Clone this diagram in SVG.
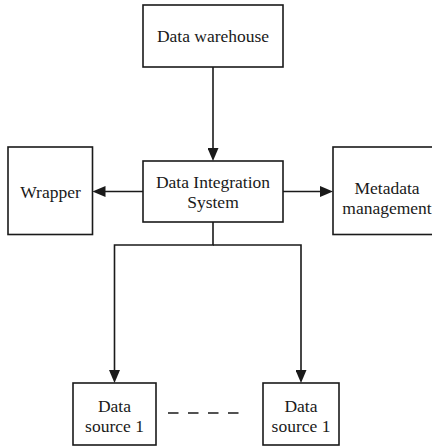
<svg xmlns="http://www.w3.org/2000/svg" width="432" height="447" viewBox="0 0 432 447">
  <style>
    .box { fill: #ffffff; stroke: #1a1a1a; stroke-width: 1.6; }
    .lbl { font-size: 17.5px; fill: #1a1a1a; text-anchor: middle; }
    .conn { fill: none; stroke: #1a1a1a; stroke-width: 1.6; }
  </style>
  <defs>
    <marker id="arr" viewBox="0 0 13 11" refX="6" refY="5.5" markerWidth="13" markerHeight="11" markerUnits="userSpaceOnUse" orient="auto">
      <path d="M0,0 L13,5.5 L0,11 z" fill="#1a1a1a"/>
    </marker>
  </defs>
  <rect width="432" height="447" fill="#ffffff"/>
  <g id="connectors">
    <line class="conn" x1="213" y1="67" x2="213" y2="154" marker-end="url(#arr)"/>
    <line class="conn" x1="143" y1="191.5" x2="99.5" y2="191.5" marker-end="url(#arr)"/>
    <line class="conn" x1="283" y1="191.5" x2="326" y2="191.5" marker-end="url(#arr)"/>
    <path class="conn" d="M213,222 V245 H114.5 V376" marker-end="url(#arr)"/>
    <path class="conn" d="M213,245 H301 V376" marker-end="url(#arr)"/>
    <line class="conn" x1="168" y1="413" x2="239" y2="413" stroke-dasharray="10.5 9.5"/>
  </g>
  <g font-family="Liberation Serif, serif">
  <g id="data-warehouse">
    <rect class="box" x="143" y="5" width="140" height="62"/>
    <text class="lbl" x="213" y="42">Data warehouse</text>
  </g>
  <g id="data-integration-system">
    <rect class="box" x="143" y="161" width="140" height="61"/>
    <text class="lbl" x="213" y="188">Data Integration</text>
    <text class="lbl" x="213" y="208">System</text>
  </g>
  <g id="wrapper">
    <rect class="box" x="8" y="147" width="84.5" height="87.5"/>
    <text class="lbl" x="50.5" y="197.5">Wrapper</text>
  </g>
  <g id="metadata-management">
    <rect class="box" x="333" y="147" width="108" height="87.5"/>
    <text class="lbl" x="387" y="194">Metadata</text>
    <text class="lbl" x="387" y="214">management</text>
  </g>
  <g id="data-source-1a">
    <rect class="box" x="73" y="383" width="83" height="62"/>
    <text class="lbl" x="114.5" y="412">Data</text>
    <text class="lbl" x="114.5" y="432">source 1</text>
  </g>
  <g id="data-source-1b">
    <rect class="box" x="263" y="383" width="76" height="62"/>
    <text class="lbl" x="301" y="412">Data</text>
    <text class="lbl" x="301" y="432">source 1</text>
  </g>
  </g>
</svg>
